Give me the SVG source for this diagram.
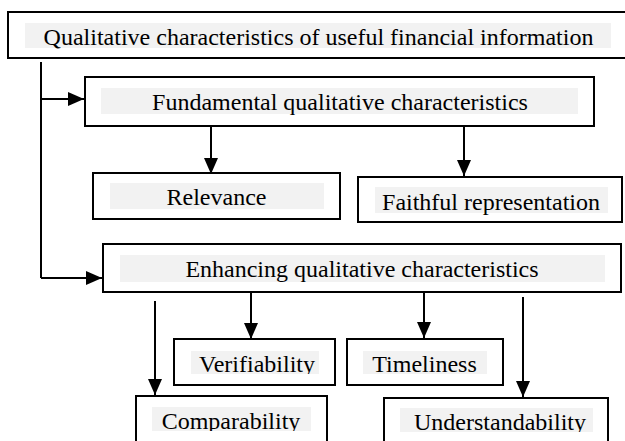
<svg xmlns="http://www.w3.org/2000/svg" width="625" height="441" viewBox="0 0 625 441">
  <style>
    .box { fill: #ffffff; stroke: #000000; stroke-width: 2; }
    .band { fill: #f2f2f2; }
    .label { font-family: "Liberation Serif", "Times New Roman", serif; font-size: 24px; fill: #000000; text-anchor: middle; }
    .wire { fill: none; stroke: #000000; stroke-width: 2; }
  </style>
  <defs>
    <marker id="head" markerUnits="userSpaceOnUse" markerWidth="16" markerHeight="14" refX="16" refY="7" orient="auto">
      <path d="M0,0 L16,7 L0,14 Z" fill="#000000"/>
    </marker>
    <clipPath id="clipVer"><rect x="191" y="351" width="128" height="23"/></clipPath>
    <clipPath id="clipCom"><rect x="152" y="407" width="159" height="24"/></clipPath>
    <clipPath id="clipUnd"><rect x="400" y="408" width="193" height="24"/></clipPath>
  </defs>

  <rect width="625" height="441" fill="#ffffff"/>

  <!-- connectors -->
  <g id="connectors">
    <path class="wire" d="M41,62 V278"/>
    <path class="wire" d="M41,99 H84" marker-end="url(#head)"/>
    <path class="wire" d="M41,278 H102" marker-end="url(#head)"/>
    <path class="wire" d="M211,126 V174" marker-end="url(#head)"/>
    <path class="wire" d="M464,126 V176" marker-end="url(#head)"/>
    <path class="wire" d="M251,292 V339" marker-end="url(#head)"/>
    <path class="wire" d="M424,292 V338" marker-end="url(#head)"/>
    <path class="wire" d="M155,301 V395" marker-end="url(#head)"/>
    <path class="wire" d="M523,297 V397" marker-end="url(#head)"/>
  </g>

  <!-- root -->
  <g id="qualitative">
    <rect class="box" x="8" y="12" width="622" height="46"/>
    <rect class="band" x="25" y="23" width="586" height="25"/>
    <text class="label" x="318.5" y="45">Qualitative characteristics of useful financial information</text>
  </g>

  <!-- fundamental branch -->
  <g id="fundamental">
    <rect class="box" x="85" y="77" width="509" height="49"/>
    <rect class="band" x="101" y="88" width="477" height="26"/>
    <text class="label" x="340" y="110">Fundamental qualitative characteristics</text>
  </g>
  <g id="relevance">
    <rect class="box" x="93" y="173" width="247" height="46"/>
    <rect class="band" x="110" y="183" width="214" height="26"/>
    <text class="label" x="216.5" y="205">Relevance</text>
  </g>
  <g id="faithful">
    <rect class="box" x="358" y="177" width="264" height="45"/>
    <rect class="band" x="375" y="187" width="233" height="26"/>
    <text class="label" x="491" y="210">Faithful representation</text>
  </g>

  <!-- enhancing branch -->
  <g id="enhancing">
    <rect class="box" x="103" y="244" width="518" height="48"/>
    <rect class="band" x="120" y="255" width="485" height="27"/>
    <text class="label" x="362" y="277">Enhancing qualitative characteristics</text>
  </g>
  <g id="verifiability">
    <rect class="box" x="174" y="339" width="161" height="46"/>
    <rect class="band" x="191" y="351" width="128" height="23"/>
    <text class="label" x="257" y="372" clip-path="url(#clipVer)">Verifiability</text>
  </g>
  <g id="timeliness">
    <rect class="box" x="347" y="339" width="156" height="46"/>
    <rect class="band" x="363" y="351" width="124" height="23"/>
    <text class="label" x="424.5" y="372">Timeliness</text>
  </g>
  <g id="comparability">
    <rect class="box" x="136" y="396" width="191" height="60"/>
    <rect class="band" x="152" y="407" width="159" height="24"/>
    <text class="label" x="231" y="429" clip-path="url(#clipCom)">Comparability</text>
  </g>
  <g id="understandability">
    <rect class="box" x="384" y="398" width="224" height="60"/>
    <rect class="band" x="400" y="408" width="193" height="24"/>
    <text class="label" x="500" y="430" clip-path="url(#clipUnd)">Understandability</text>
  </g>
</svg>
